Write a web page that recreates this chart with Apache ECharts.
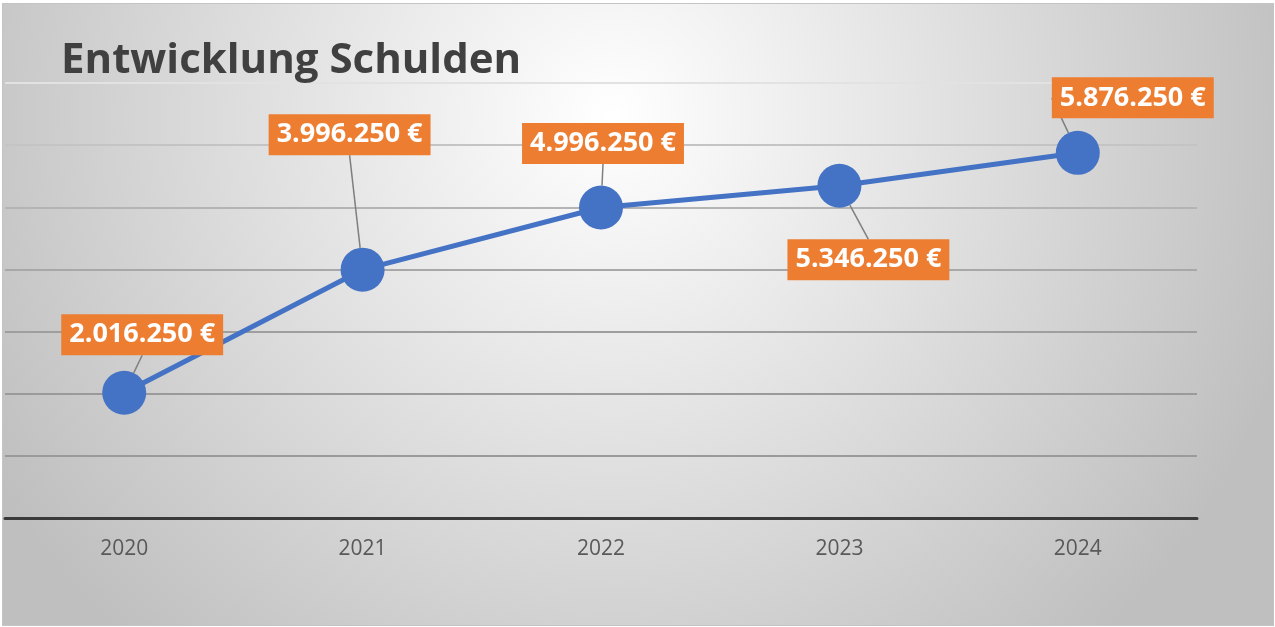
<!DOCTYPE html>
<html>
<head>
<meta charset="utf-8">
<script src="https://cdn.jsdelivr.net/npm/echarts@6/dist/echarts.min.js"></script>
<style>
  body { margin: 0; background: #fff; }
  #chart { position: absolute; left: 2px; top: 3px; width: 1270px; height: 621px; border: 1px solid #c4c4c4; }
</style>
</head>
<body>
<div id="chart"></div>
<script>
const years = ['2020', '2021', '2022', '2023', '2024'];
const debts = [2016250, 3996250, 4996250, 5346250, 5876250];
// where each orange box sits relative to its point
const labelShift = [[18, -58], [-13, -135], [2, -64], [29, 74], [55, -55]];

function euro(v) {
  return String(v).replace(/\B(?=(\d{3})+(?!\d))/g, '.') + ' €';
}

const chart = echarts.init(document.getElementById('chart'));

const option = {
  backgroundColor: {
    type: 'radial',
    x: 0.48, y: 0.18, r: 1.15,
    colorStops: [
      { offset: 0, color: '#ffffff' },
      { offset: 1, color: '#bfbfbf' }
    ]
  },
  textStyle: { fontFamily: 'Open Sans' },
  title: {
    text: 'Entwicklung Schulden',
    left: 53,
    top: 31,
    textStyle: { fontSize: 42, fontWeight: 'bold', color: '#404040' }
  },
  grid: { left: 2, right: 76, top: 79, bottom: 107 },
  xAxis: {
    type: 'category',
    data: years,
    axisLine: { lineStyle: { color: '#3a3a3a', width: 3 } },
    axisTick: { show: false },
    axisLabel: { fontSize: 21, color: '#595959', margin: 21 }
  },
  yAxis: {
    type: 'value',
    min: 0,
    max: 7000000,
    interval: 1000000,
    axisLabel: { show: false },
    axisLine: { show: false },
    axisTick: { show: false },
    splitLine: {
      lineStyle: {
        width: 2,
        color: ['#9a9a9a', '#9a9a9a', '#9a9a9a', '#9e9e9e', '#a8a8a8', '#b4b4b4', '#c4c4c4', '#e2e2e2']
      }
    }
  },
  series: [{
    type: 'line',
    data: debts,
    symbol: 'circle',
    symbolSize: 44,
    itemStyle: { color: '#4472C4' },
    lineStyle: { color: '#4472C4', width: 5 },
    z: 2,
    label: {
      show: true,
      position: 'inside',
      formatter: p => euro(p.value),
      backgroundColor: '#ED7D31',
      color: '#fff',
      fontWeight: 'bold',
      fontSize: 27,
      padding: [8, 8, 6, 8]
    },
    labelLine: {
      show: true,
      showAbove: true,
      lineStyle: { color: '#7f7f7f', width: 1.5 }
    },
    labelLayout: p => ({
      dx: labelShift[p.dataIndex][0],
      dy: labelShift[p.dataIndex][1]
    })
  }]
};

chart.setOption(option);
</script>
</body>
</html>
